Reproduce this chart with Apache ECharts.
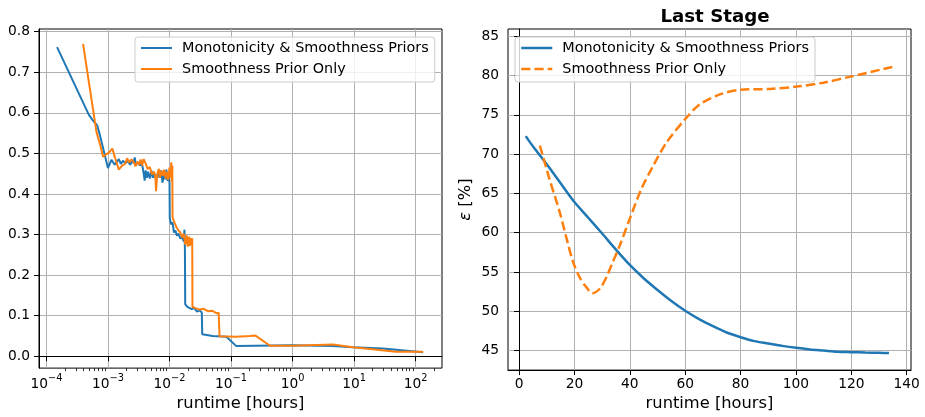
<!DOCTYPE html>
<html>
<head>
<meta charset="utf-8">
<script src="https://cdn.jsdelivr.net/npm/echarts@6/dist/echarts.min.js"></script>
<style>
  html, body { margin: 0; padding: 0; background: #fff; }
  #chart { width: 925px; height: 417px; }
</style>
</head>
<body>
<div id="chart"></div>
<script>
const seriesNames = ['Monotonicity & Smoothness Priors', 'Smoothness Prior Only']

// left panel: [runtime in hours, value]
const leftMono = [
  [1.49e-4, 0.762], [4.9e-4, 0.595], [5.7e-4, 0.581], [6.7e-4, 0.569], [7.4e-4, 0.545],
  [1.0e-3, 0.464], [1.14e-3, 0.484], [1.29e-3, 0.472], [1.5e-3, 0.486], [1.62e-3, 0.474],
  [1.75e-3, 0.482], [1.9e-3, 0.476], [2.1e-3, 0.481], [2.3e-3, 0.472], [2.5e-3, 0.483],
  [2.62e-3, 0.476], [2.72e-3, 0.49], [2.85e-3, 0.471], [3.05e-3, 0.478], [3.3e-3, 0.47],
  [3.5e-3, 0.48], [3.7e-3, 0.462], [3.85e-3, 0.445], [3.95e-3, 0.433], [4.1e-3, 0.458],
  [4.3e-3, 0.44], [4.5e-3, 0.455], [4.8e-3, 0.438], [5.1e-3, 0.457], [5.4e-3, 0.44],
  [5.7e-3, 0.45], [6.1e-3, 0.436], [6.5e-3, 0.452], [6.9e-3, 0.44], [7.3e-3, 0.458],
  [7.7e-3, 0.428], [8.1e-3, 0.448], [8.5e-3, 0.436], [8.9e-3, 0.46], [9.3e-3, 0.432],
  [9.7e-3, 0.448], [1.0e-2, 0.43], [1.01e-2, 0.34], [1.06e-2, 0.325], [1.12e-2, 0.33],
  [1.18e-2, 0.305], [1.25e-2, 0.31], [1.32e-2, 0.297], [1.4e-2, 0.302], [1.5e-2, 0.29],
  [1.6e-2, 0.295], [1.7e-2, 0.283], [1.75e-2, 0.312], [1.78e-2, 0.262], [1.8e-2, 0.128],
  [1.95e-2, 0.122], [2.1e-2, 0.125], [2.3e-2, 0.116], [2.5e-2, 0.119], [2.8e-2, 0.11],
  [3.1e-2, 0.113], [3.35e-2, 0.108], [3.4e-2, 0.054], [5e-2, 0.05], [8.4e-2, 0.048],
  [0.122, 0.025], [1.0, 0.027], [4.5, 0.025], [9.6, 0.022], [29, 0.019], [132, 0.010]
]
const leftSmooth = [
  [3.94e-4, 0.770], [6.5e-4, 0.553], [7.5e-4, 0.52], [8.3e-4, 0.492], [9.5e-4, 0.498],
  [1.08e-3, 0.505], [1.18e-3, 0.512], [1.3e-3, 0.49], [1.5e-3, 0.46], [1.7e-3, 0.47],
  [1.9e-3, 0.474], [2.05e-3, 0.488], [2.2e-3, 0.478], [2.4e-3, 0.485], [2.6e-3, 0.479],
  [2.8e-3, 0.468], [3.0e-3, 0.48], [3.2e-3, 0.472], [3.4e-3, 0.485], [3.6e-3, 0.47],
  [3.8e-3, 0.486], [4.1e-3, 0.475], [4.4e-3, 0.462], [4.8e-3, 0.466], [5.2e-3, 0.448],
  [5.6e-3, 0.455], [5.9e-3, 0.44], [6.05e-3, 0.407], [6.3e-3, 0.448], [6.7e-3, 0.462],
  [7.0e-3, 0.44], [7.4e-3, 0.458], [7.8e-3, 0.445], [8.2e-3, 0.46], [8.6e-3, 0.438],
  [9.0e-3, 0.455], [9.5e-3, 0.435], [1.0e-2, 0.465], [1.04e-2, 0.44], [1.07e-2, 0.478],
  [1.09e-2, 0.43], [1.11e-2, 0.47], [1.12e-2, 0.342], [1.2e-2, 0.33], [1.3e-2, 0.318],
  [1.4e-2, 0.31], [1.5e-2, 0.305], [1.6e-2, 0.293], [1.7e-2, 0.302], [1.8e-2, 0.275],
  [1.9e-2, 0.298], [1.98e-2, 0.27], [2.06e-2, 0.295], [2.14e-2, 0.272], [2.22e-2, 0.292],
  [2.3e-2, 0.276], [2.34e-2, 0.291], [2.36e-2, 0.122], [2.7e-2, 0.118], [3.1e-2, 0.115],
  [3.6e-2, 0.117], [4.2e-2, 0.111], [5.0e-2, 0.112], [5.8e-2, 0.106], [6.3e-2, 0.107],
  [6.5e-2, 0.049], [0.12, 0.048], [0.2, 0.05], [0.25, 0.051], [0.43, 0.026],
  [1.0, 0.026], [4.5, 0.029], [9.6, 0.022], [48, 0.011], [132, 0.011]
]

// right panel "Last Stage": [runtime in hours, epsilon %]
const rightMono = [
  [2.4, 72.3], [5, 71.0], [10, 68.7], [15, 66.3], [20, 63.9], [25, 61.9], [30, 59.9],
  [35, 57.85], [40, 55.9], [45, 54.2], [50, 52.7], [55, 51.3], [60, 50.06], [65, 49.0],
  [70, 48.1], [75, 47.3], [80, 46.7], [85, 46.2], [90, 45.9], [95, 45.6], [100, 45.35],
  [105, 45.15], [110, 45.0], [115, 44.85], [120, 44.8], [125, 44.75], [130, 44.72], [133.6, 44.68]
]
const rightSmooth = [
  [7.5, 71.1], [11, 66.8], [14.7, 62.6], [17.5, 58.8], [19.5, 56.3], [21.9, 54.3], [24, 53.2],
  [26.5, 52.3], [29.2, 52.9], [31.5, 54.3], [33.4, 55.9], [36.4, 58.4], [40, 61.8], [44.2, 65.6],
  [48.4, 68.5], [53.3, 71.5], [60.1, 74.5], [65.3, 76.35], [72.5, 77.6], [80.1, 78.2],
  [90.6, 78.3], [100.3, 78.6], [109.9, 79.1], [120.1, 79.9], [134.8, 81.1]
]

const leftXTicks = [1e-4, 1e-3, 1e-2, 1e-1, 1, 10, 100]
const leftXMinor = []
for (const d of leftXTicks) {
  for (let k = 2; k <= 9; k++) leftXMinor.push(d * k)
}
const leftYTicks = [0, 0.1, 0.2, 0.3, 0.4, 0.5, 0.6, 0.7, 0.8]
const rightXTicks = [0, 20, 40, 60, 80, 100, 120, 140]
const rightYTicks = [45, 50, 55, 60, 65, 70, 75, 80, 85]

const font = 'DejaVu Sans'
const blue = '#1f77b4'
const orange = '#ff7f0e'
const dash = [9.2, 4]

function logLabel(v) {
  const e = Math.round(Math.log10(v))
  return '{b|10}{s|' + (e < 0 ? '−' + (-e) : e) + '}'
}

const tickLabel = {color: '#000', fontFamily: font, fontSize: 13.8}
const gridLine = {show: true, lineStyle: {color: '#b0b0b0', width: 1}}
const blackLine = {show: true, lineStyle: {color: '#000', width: 1}}

function legendOpt(left, data) {
  return {
    orient: 'vertical', left: left, top: 37,
    padding: [4, 6, 6, 5], itemGap: 7, itemWidth: 31, itemHeight: 14,
    backgroundColor: 'rgba(255,255,255,0.8)', borderColor: '#cccccc', borderWidth: 1, borderRadius: 3,
    itemStyle: {opacity: 0},
    textStyle: {fontFamily: font, fontSize: 14.4, color: '#000', padding: [0, 0, 0, 5]},
    data: data
  }
}

const myChart = echarts.init(document.getElementById('chart'))
myChart.setOption({
  animation: false,
  backgroundColor: '#fff',
  title: {
    text: 'Last Stage', left: 710, top: 3, textAlign: 'center',
    textStyle: {fontFamily: font, fontSize: 18.2, fontWeight: 'bold', color: '#000'}
  },
  legend: [
    legendOpt(135, [
      {name: seriesNames[0], lineStyle: {width: 2, color: blue, type: 'solid'}},
      {name: seriesNames[1], lineStyle: {width: 2, color: orange, type: 'solid'}}
    ]),
    legendOpt(515, [
      {name: seriesNames[0], lineStyle: {width: 2.5, color: blue, type: 'solid'}},
      {name: seriesNames[1], lineStyle: {width: 2.5, color: orange, type: dash}}
    ])
  ],
  grid: [
    {left: 39, top: 29, width: 403, height: 343, show: true, borderColor: '#000', borderWidth: 1, backgroundColor: 'transparent'},
    {left: 508, top: 29, width: 403, height: 343, show: true, borderColor: '#000', borderWidth: 1, backgroundColor: 'transparent'}
  ],
  xAxis: [
    {
      type: 'log', gridIndex: 0, position: 'bottom', min: 7.58e-5, max: 267.5,
      name: 'runtime [hours]', nameLocation: 'middle', nameGap: 24,
      nameTextStyle: {fontFamily: font, fontSize: 16.3, color: '#000'},
      axisLine: blackLine,
      axisTick: {show: true, inside: false, length: 5, customValues: leftXTicks, lineStyle: {color: '#000'}},
      axisLabel: {
        margin: 5, customValues: leftXTicks, formatter: logLabel, color: '#000', fontFamily: font,
        rich: {
          b: {fontFamily: font, fontSize: 13.8, color: '#000', lineHeight: 18, verticalAlign: 'bottom'},
          s: {fontFamily: font, fontSize: 9.8, color: '#000', lineHeight: 12, verticalAlign: 'top'}
        }
      },
      splitLine: gridLine
    },
    {
      type: 'log', gridIndex: 0, position: 'bottom', min: 7.58e-5, max: 267.5,
      axisLine: {show: false},
      axisTick: {show: true, inside: false, length: 3, customValues: leftXMinor, lineStyle: {color: '#000', width: 0.8}},
      axisLabel: {show: false},
      splitLine: {show: false}
    },
    {
      type: 'value', gridIndex: 1, min: -4, max: 141.55,
      name: 'runtime [hours]', nameLocation: 'middle', nameGap: 24,
      nameTextStyle: {fontFamily: font, fontSize: 16.3, color: '#000'},
      axisLine: blackLine,
      axisTick: {show: true, inside: false, length: 5, customValues: rightXTicks, lineStyle: {color: '#000'}},
      axisLabel: Object.assign({margin: 7, customValues: rightXTicks}, tickLabel),
      splitLine: gridLine
    }
  ],
  yAxis: [
    {
      type: 'value', gridIndex: 0, min: -0.0292, max: 0.8066,
      axisLine: blackLine,
      axisTick: {show: true, inside: false, length: 5, customValues: leftYTicks, lineStyle: {color: '#000'}},
      axisLabel: Object.assign({margin: 9, customValues: leftYTicks, formatter: v => v.toFixed(1)}, tickLabel),
      splitLine: gridLine
    },
    {
      type: 'value', gridIndex: 1, min: 42.515, max: 85.93,
      name: '{e|ε} [%]', nameLocation: 'middle', nameGap: 34, nameRotate: 90,
      nameTextStyle: {
        fontFamily: font, fontSize: 16.3, color: '#000',
        rich: {e: {fontFamily: font, fontSize: 16.3, color: '#000', fontStyle: 'italic'}}
      },
      axisLine: blackLine,
      axisTick: {show: true, inside: false, length: 5, customValues: rightYTicks, lineStyle: {color: '#000'}},
      axisLabel: Object.assign({margin: 9, customValues: rightYTicks}, tickLabel),
      splitLine: gridLine
    }
  ],
  series: [
    {
      name: seriesNames[0], type: 'line', xAxisIndex: 0, yAxisIndex: 0,
      data: leftMono, symbol: 'none', color: blue, lineStyle: {width: 2, color: blue}
    },
    {
      name: seriesNames[1], type: 'line', xAxisIndex: 0, yAxisIndex: 0,
      data: leftSmooth, symbol: 'none', color: orange, lineStyle: {width: 2, color: orange}
    },
    {
      name: seriesNames[0], type: 'line', xAxisIndex: 2, yAxisIndex: 1,
      data: rightMono, symbol: 'none', smooth: 0.3, color: blue, lineStyle: {width: 2.5, color: blue}
    },
    {
      name: seriesNames[1], type: 'line', xAxisIndex: 2, yAxisIndex: 1,
      data: rightSmooth, symbol: 'none', smooth: 0.3, color: orange,
      lineStyle: {width: 2.5, color: orange, type: dash}
    }
  ]
})
</script>
</body>
</html>
